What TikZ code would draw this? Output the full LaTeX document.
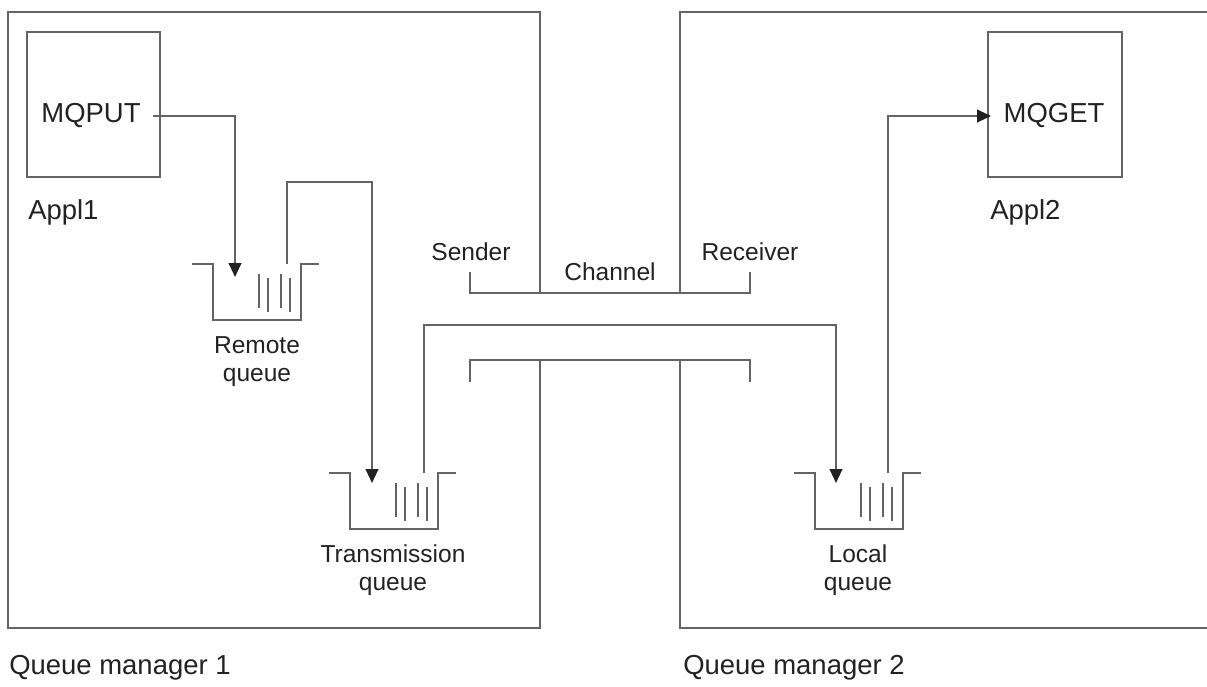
\documentclass[tikz,border=0pt]{standalone}
\usepackage{fontspec}
\setmainfont{Liberation Sans}
\usetikzlibrary{arrows.meta}

\definecolor{linegray}{RGB}{100,100,100}
\definecolor{textgray}{RGB}{34,34,34}

\tikzset{
  line/.style={draw=linegray, line width=1.5pt},
  flow/.style={line, -{Triangle[length=10.5pt,width=9.5pt,color=textgray]}},
  label/.style={text=textgray, font=\fontsize{18.4}{21}\selectfont, align=center, inner sep=0pt},
  big/.style={text=textgray, font=\fontsize{20.6}{24}\selectfont, inner sep=0pt},
  appbox/.style={line, minimum height=108.75pt, inner sep=0pt},
  queue/.pic={
    \draw[line] (-21,0) -- (0,0) -- (0,56) -- (88,56) -- (88,0) -- (106,0);
    \draw[line] (46,10) -- (46,44);
    \draw[line] (55,14) -- (55,48);
    \draw[line] (68,10) -- (68,44);
    \draw[line] (77,14) -- (77,48);
  }
}

\begin{document}
\begin{tikzpicture}[x=0.75pt, y=-0.75pt]
\useasboundingbox (0,0) rectangle (1207,686);

% queue managers
\draw[line] (540,293) -- (540,12) -- (8,12) -- (8,628) -- (540,628) -- (540,360);
\draw[line] (1207,12) -- (680,12) -- (680,293);
\draw[line] (680,360) -- (680,628) -- (1207,628);
\node[big, anchor=west] (qm1) at (9,668) {Queue manager 1};
\node[big, anchor=west] (qm2) at (683,668) {Queue manager 2};

% channel
\draw[line] (470,272) -- (470,293) -- (750,293) -- (750,272);
\draw[line] (470,382) -- (470,360) -- (750,360) -- (750,382);
\node[label] (sender) at (471,252) {Sender};
\node[label] (channel) at (610,272) {Channel};
\node[label] (receiver) at (750,252) {Receiver};

% applications
\node[appbox, minimum width=99.75pt] (appl1) at (93.5,104.5) {};
\node[big] (put) at (91,116) {MQPUT};
\node[big, anchor=west] (appl1 name) at (28,212) {Appl1};
\node[appbox, minimum width=100.5pt] (appl2) at (1055,104.5) {};
\node[big] (get) at (1054,116) {MQGET};
\node[big, anchor=west] (appl2 name) at (990,212) {Appl2};

% queues
\pic at (213,264) {queue};
\pic at (350,473) {queue};
\pic at (815,473) {queue};
\node[label] (rq name) at (257,362) {Remote\\queue};
\node[label] (tq name) at (393,570) {Transmission\\queue};
\node[label] (lq name) at (858,570) {Local\\queue};
\coordinate (rq in) at (235,277);
\coordinate (rq out) at (287,264);
\coordinate (tq in) at (372,483);
\coordinate (tq out) at (424,473);
\coordinate (lq in) at (836,483);
\coordinate (lq out) at (888,473);

% message flow
\draw[flow] ([xshift=9pt]put.east) -| (rq in);
\draw[flow] (rq out) -- ++(0,-82) -| (tq in);
\draw[flow] (tq out) -- ++(0,-148) -| (lq in);
\draw[flow] (lq out) |- ([xshift=3pt]appl2.west |- get.west);
\end{tikzpicture}
\end{document}
